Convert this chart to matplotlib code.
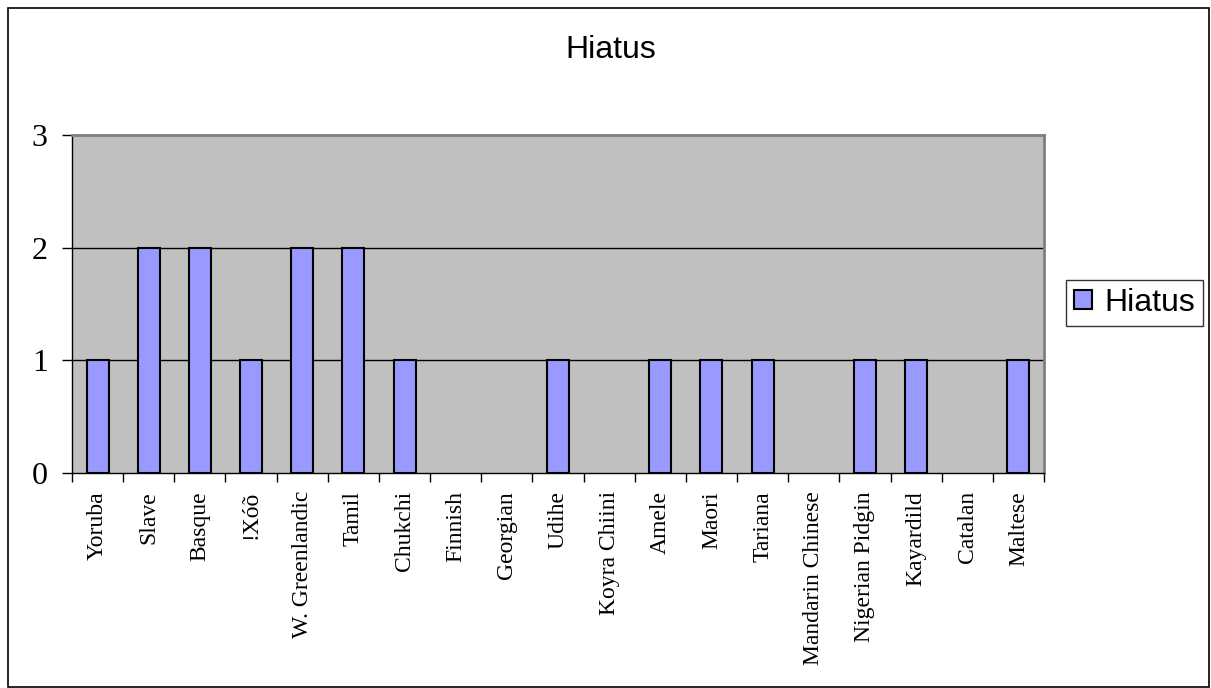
import matplotlib
matplotlib.use("Agg")
import matplotlib.pyplot as plt
from matplotlib.patches import Rectangle

languages = ["Yoruba", "Slave", "Basque", "!Xóõ", "W. Greenlandic", "Tamil",
             "Chukchi", "Finnish", "Georgian", "Udihe", "Koyra Chiini", "Amele",
             "Maori", "Tariana", "Mandarin Chinese", "Nigerian Pidgin",
             "Kayardild", "Catalan", "Maltese"]
hiatus = [1, 2, 2, 1, 2, 2, 1, 0, 0, 1, 0, 1, 1, 1, 0, 1, 1, 0, 1]
y_ticks = [0, 1, 2, 3]

fig = plt.figure(figsize=(12.11, 6.88), dpi=100)
ax = fig.add_axes([72 / 1211, 1 - 473 / 688, (1044 - 72) / 1211, (473 - 135) / 688])
ax.set_facecolor("#C0C0C0")

x = list(range(len(languages)))
# zero-height bars leave no outline in the original
edge_w = [1.5 if v > 0 else 0 for v in hiatus]
ax.bar(x, hiatus, width=0.43, color="#9999FF", edgecolor="black",
       linewidth=edge_w, label="Hiatus", zorder=3)

ax.set_xlim(-0.5, len(languages) - 0.5)
ax.set_ylim(0, 3)
ax.set_yticks(y_ticks)
ax.set_yticklabels([str(v) for v in y_ticks], fontfamily="Liberation Serif", fontsize=23)
for v in y_ticks[1:-1]:
    ax.axhline(v, color="black", linewidth=1, zorder=1)

# category labels centred, ticks between categories
ax.set_xticks(x)
ax.set_xticklabels(languages, rotation=90, fontfamily="Liberation Serif", fontsize=17)
ax.set_xticks([i - 0.5 for i in range(len(languages) + 1)], minor=True)
ax.tick_params(axis="x", which="major", length=0, pad=13)
ax.tick_params(axis="x", which="minor", length=6.5, width=1, direction="out")
ax.tick_params(axis="y", length=7.5, width=1, direction="out", pad=10)

for side in ["top", "right"]:
    ax.spines[side].set_color("#808080")
    ax.spines[side].set_linewidth(2)
for side in ["left", "bottom"]:
    ax.spines[side].set_color("black")
    ax.spines[side].set_linewidth(1)

fig.text(0.5 + 5 / 1211, 1 - 50 / 688, "Hiatus", ha="center", va="center",
         fontfamily="Liberation Sans", fontsize=23)

leg = ax.legend(loc="center left", bbox_to_anchor=(1066 / 1211, 1 - 303 / 688),
                bbox_transform=fig.transFigure, frameon=True, fancybox=False,
                prop={"family": "Liberation Sans", "size": 23},
                handlelength=0.55, handleheight=0.55, handletextpad=0.4,
                borderpad=0.25, borderaxespad=0)
leg.get_frame().set_edgecolor("black")
leg.get_frame().set_linewidth(1)

# outer chart border
fig.patches.append(Rectangle((8 / 1211, 0.001), 1 - 10 / 1211, 1 - 9 / 688,
                             transform=fig.transFigure, fill=False,
                             edgecolor="black", linewidth=1.2))

fig.savefig("out.png", dpi=100)
